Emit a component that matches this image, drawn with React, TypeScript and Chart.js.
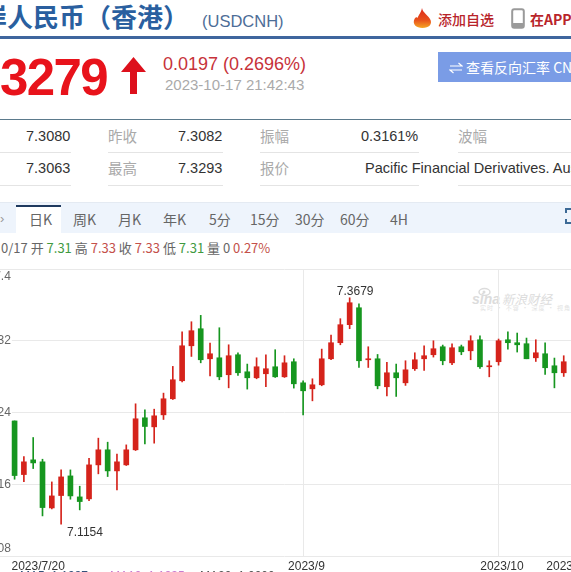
import React, { useEffect, useRef } from "react";
import { Chart, registerables } from "chart.js";

Chart.register(...registerables);

const opens = [7.2306,7.1708,7.1872,7.1850,7.1336,7.1474,7.1693,7.1459,7.1437,7.1816,7.1984,7.1749,7.1816,7.1984,7.2341,7.2240,7.2374,7.2553,7.2754,7.3144,7.3334,7.2999,7.3010,7.2821,7.3044,7.2854,7.2787,7.2832,7.2910,7.2798,7.2966,7.2731,7.2664,7.2709,7.2999,7.3178,7.3379,7.3568,7.2988,7.2999,7.2687,7.2843,7.2731,7.2888,7.2999,7.3044,7.3133,7.2954,7.3133,7.3088,7.3211,7.2910,7.2966,7.3211,7.3178,7.3167,7.3010,7.3055,7.2921,7.2843];
const closes = [7.1697,7.1850,7.1838,7.1340,7.1470,7.1682,7.1470,7.1407,7.1816,7.1984,7.1749,7.1850,7.1984,7.2330,7.2244,7.2363,7.2553,7.2765,7.3144,7.3312,7.2988,7.3055,7.2798,7.3033,7.2843,7.2787,7.2910,7.2888,7.2798,7.2954,7.2720,7.2642,7.2709,7.2999,7.3178,7.3379,7.3624,7.2977,7.2999,7.2698,7.2843,7.2787,7.2876,7.2988,7.3033,7.3111,7.2977,7.3122,7.3077,7.3200,7.2910,7.2921,7.3200,7.3178,7.3155,7.2999,7.3066,7.2899,7.2843,7.2966];
const highs = [7.2306,7.1909,7.2121,7.1879,7.1626,7.1760,7.1760,7.1578,7.1890,7.2114,7.2069,7.1935,7.2039,7.2497,7.2430,7.2437,7.2616,7.2914,7.3300,7.3412,7.3483,7.3174,7.3345,7.3155,7.3066,7.2940,7.3010,7.3044,7.3100,7.3033,7.2999,7.2754,7.2776,7.3107,7.3263,7.3446,7.3679,7.3613,7.3133,7.3047,7.2958,7.2940,7.2977,7.3066,7.3144,7.3200,7.3152,7.3167,7.3152,7.3256,7.3256,7.2977,7.3219,7.3300,7.3286,7.3230,7.3211,7.3178,7.3007,7.3033];
const lows = [7.1656,7.1630,7.1775,7.1247,7.1325,7.1154,7.1433,7.1314,7.1418,7.1716,7.1686,7.1537,7.1809,7.1976,7.2051,7.2058,7.2322,7.2545,7.2742,7.3025,7.2954,7.2809,7.2765,7.2675,7.2813,7.2661,7.2776,7.2687,7.2791,7.2791,7.2672,7.2374,7.2530,7.2698,7.2988,7.3155,7.3334,7.2902,7.2902,7.2664,7.2586,7.2579,7.2702,7.2869,7.2869,7.3018,7.2932,7.2932,7.3044,7.2988,7.2891,7.2798,7.2928,7.3107,7.3074,7.2999,7.2969,7.2824,7.2675,7.2802];

const leadingSlots = [null, null, null];
const trailingSlots = [null, null];
const dateLabels: string[] = ["","","","","","   2023/7/20","","","","","","","","","","","","","","","","","","","","","","","","","","","","","  2023/9","","","","","","","","","","","","","","","","","","","","","  2023/10","","","","","","","","2023/10/9","",""].slice(0, 65);
const gridDates = ["2023/9", "2023/10"];
const yTicks = [7.4, 7.32, 7.24, 7.16, 7.08];
const highLabel = "7.3679";
const lowLabel = "7.1154";

const upColor = "#d5231b";
const downColor = "#16961f";

const extremeLabels = {
  id: "extremeLabels",
  afterDatasetsDraw(chart: any) {
    const { ctx, scales } = chart;
    const topIdx = leadingSlots.length + highs.indexOf(Math.max(...highs));
    const botIdx = leadingSlots.length + lows.indexOf(Math.min(...lows));
    ctx.save();
    ctx.font = "12px 'Liberation Sans'";
    ctx.fillStyle = "#333";
    ctx.textBaseline = "middle";
    ctx.textAlign = "center";
    ctx.fillText(highLabel, scales.x.getPixelForTick(topIdx) + 5.5, scales.y.getPixelForValue(Math.max(...highs)) - 6);
    ctx.textAlign = "left";
    ctx.fillText(lowLabel, scales.x.getPixelForTick(botIdx) + 6, scales.y.getPixelForValue(Math.min(...lows)) + 8);
    ctx.restore();
  },
};

const abs = (x: number, y: number, extra: React.CSSProperties = {}): React.CSSProperties => ({
  position: "absolute",
  left: x,
  top: y,
  whiteSpace: "nowrap",
  ...extra,
});

const CJK = "'Noto Sans CJK SC','Liberation Sans',sans-serif";
const ARIAL = "'Liberation Sans','Noto Sans CJK SC',sans-serif";

const rows: [string, number, number, string, string][] = [
  ["7.3080", 26, 136, "#333", ARIAL],
  ["昨收", 108, 136, "#aaa", CJK],
  ["7.3082", 178, 136, "#333", ARIAL],
  ["振幅", 260, 136, "#aaa", CJK],
  ["0.3161%", 361, 136, "#333", ARIAL],
  ["波幅", 458, 136, "#aaa", CJK],
  ["7.3063", 26, 168, "#333", ARIAL],
  ["最高", 108, 168, "#aaa", CJK],
  ["7.3293", 178, 168, "#333", ARIAL],
  ["报价", 260, 168, "#aaa", CJK],
  ["Pacific Financial Derivatives. Australia", 365, 168, "#333", ARIAL],
];
const underlines: [number, number][] = [[0, 71], [108, 223], [260, 419], [458, 571]];
const tabs: [string, number][] = [["日K", 29], ["周K", 73], ["月K", 118], ["年K", 163], ["5分", 209], ["15分", 250], ["30分", 295], ["60分", 340], ["4H", 390]];
const quote: [string, string][] = [
  ["0/17 开 ", "#666"], ["7.31", "#3f9a3f"], [" 高 ", "#666"], ["7.33", "#c4504a"], [" 收 ", "#666"], ["7.33", "#c4504a"],
  [" 低 ", "#666"], ["7.31", "#3f9a3f"], [" 量 0 ", "#666"], ["0.27%", "#c4504a"],
];
const maLegend: [string, number, string][] = [["MA5: 1.1937", 20, "#33507a"], ["MA10: 1.1935", 110, "#c77bd0"], ["MA20: 1.0000", 200, "#555"]];

export default function App() {
  const ref = useRef<HTMLCanvasElement>(null);
  useEffect(() => {
    const toBar = (a: number[], b: number[]) => [...leadingSlots, ...a.map((v, i) => [Math.min(v, b[i]), Math.max(v, b[i])]), ...trailingSlots];
    const colors = [...leadingSlots.map(() => upColor), ...closes.map((c, i) => (c >= opens[i] ? upColor : downColor)), ...trailingSlots.map(() => upColor)];
    const chart = new Chart(ref.current!, {
      type: "bar",
      data: {
        labels: dateLabels,
        datasets: [
          { label: "wick", data: toBar(lows, highs) as any, backgroundColor: colors, barThickness: 1, grouped: false, order: 2 },
          { label: "body", data: toBar(opens, closes) as any, backgroundColor: colors, barThickness: 5, minBarLength: 1, grouped: false, order: 1 },
        ],
      },
      options: {
        animation: false,
        responsive: false,
        layout: { padding: { top: 7, left: 0, right: 0, bottom: 0 } },
        plugins: { legend: { display: false }, tooltip: { enabled: false } },
        scales: {
          x: {
            grid: {
              offset: false,
              drawTicks: false,
              color: (c: any) => (gridDates.includes((dateLabels[c.index] || "").trim()) ? "#e9e9e9" : "rgba(0,0,0,0)"),
            },
            border: { display: false },
            ticks: { autoSkip: false, maxRotation: 0, padding: 3, color: "#333", font: { family: "'Liberation Sans'", size: 12 } },
            afterFit: (s: any) => { s.height = 24; s.paddingLeft = 0; s.paddingRight = 0; },
          },
          y: {
            min: 7.08,
            max: 7.4,
            afterFit: (s: any) => { s.width = 0; s.paddingTop = 0; s.paddingBottom = 0; },
            afterBuildTicks: (s: any) => { s.ticks = yTicks.map((value) => ({ value })); },
            grid: { color: "#e9e9e9", drawTicks: false },
            border: { display: false },
            ticks: {
              mirror: true,
              padding: 5.5,
              z: 1,
              color: "#666",
              font: { family: "'Liberation Sans'", size: 12 },
              showLabelBackdrop: (c: any) => c.tick && c.tick.value !== 7.4 && c.tick.value !== 7.08,
              backdropColor: "#fff",
              backdropPadding: 1,
              callback: (v: any) => {
                const n = Number(v);
                if (n === 7.4) return ["", "  7.4"];
                if (n === 7.08) return ["7.08", ""];
                return n.toFixed(2);
              },
            },
          },
        },
      },
      plugins: [extremeLabels],
    } as any);
    return () => chart.destroy();
  }, []);

  return (
    <div style={{ position: "relative", width: 571, height: 572, overflow: "hidden", background: "#fff", fontFamily: ARIAL }}>
      <style>{"body{margin:0}"}</style>

      <div style={abs(-45, -3, { fontFamily: CJK, fontWeight: 700, fontSize: 26, lineHeight: "38px", color: "#2a5f9f" })}>离岸人民币（香港）</div>
      <div style={abs(202, 11, { fontSize: 16.5, lineHeight: "20px", color: "#4d6d97" })}>(USDCNH)</div>

      <svg style={abs(412, 8)} width="21" height="21" viewBox="0 0 21 21">
        <defs>
          <linearGradient id="fire" x1="0" y1="0" x2="0" y2="1">
            <stop offset="0" stopColor="#dc2a1c" />
            <stop offset="0.6" stopColor="#e8501c" />
            <stop offset="1" stopColor="#f6a623" />
          </linearGradient>
        </defs>
        <path d="M10 0 C11 5 15 6 18 11 C21 16 17 20 10.5 20 C4 20 0 16 2.5 11 C3.5 9 5 9 5.5 10 C6.5 7 9 5 10 0 Z" fill="url(#fire)" />
      </svg>
      <div style={abs(438, 9, { fontFamily: CJK, fontSize: 14, lineHeight: "20px", color: "#b8242a", fontWeight: 500 })}>添加自选</div>
      <svg style={abs(511, 8)} width="14" height="21" viewBox="0 0 14 21">
        <rect x="1.2" y="1.2" width="11.6" height="18.6" rx="2" fill="#fff" stroke="#9a9a9a" strokeWidth="2" />
        <rect x="1" y="15" width="12" height="5" rx="1.5" fill="#9a9a9a" />
      </svg>
      <div style={abs(530, 9, { fontFamily: CJK, fontSize: 14, lineHeight: "20px", color: "#b8242a", fontWeight: 700 })}>在APP中查看</div>

      <div style={abs(0, 36, { width: 571, height: 3, background: "#3f669e" })} />

      <div style={{ position: "absolute", right: 464, top: 48, fontSize: 51, lineHeight: "60px", fontWeight: 700, letterSpacing: -1.6, color: "#e8131b", whiteSpace: "nowrap" }}>7.3279</div>
      <svg style={abs(121, 57)} width="25" height="37" viewBox="0 0 25 37">
        <polygon points="12.5,0 25,15 16,15 16,37 9,37 9,15 0,15" fill="#dd101c" />
      </svg>
      <div style={abs(163, 54, { fontSize: 18, lineHeight: "20px", color: "#c7323a" })}>0.0197 (0.2696%)</div>
      <div style={abs(165, 76, { fontSize: 15, lineHeight: "18px", color: "#aaa" })}>2023-10-17 21:42:43</div>

      <div style={abs(438, 52, { width: 133, height: 30, background: "#7a9ce6" })} />
      <svg style={abs(449, 60)} width="14" height="16" viewBox="0 0 14 16">
        <path d="M1 6 H13 L9.5 3 M13 10 H1 L4.5 13" fill="none" stroke="#fff" strokeWidth="1.2" />
      </svg>
      <div style={abs(466, 57, { fontFamily: CJK, fontSize: 14, lineHeight: "20px", color: "#fff" })}>查看反向汇率 CNH/USD</div>

      <div style={abs(0, 118.5, { width: 571, height: 1, background: "#5b7a8c" })} />
      {rows.map(([t, x, y, c, f], i) => (
        <div key={i} style={abs(x, y - 10, { fontFamily: f, fontSize: 14.5, lineHeight: "20px", color: c })}>{t}</div>
      ))}
      {[152, 185].map((y) =>
        underlines.map(([a, b]) => <div key={y + "-" + a} style={abs(a, y, { width: b - a, height: 1, background: "#e4e4e4" })} />),
      )}

      <div style={abs(0, 202, { width: 571, height: 31, background: "#eef4fc", borderTop: "1px solid #e4eaf2", boxSizing: "border-box" })} />
      <div style={abs(16, 205, { width: 45, height: 29, background: "#fff", borderTop: "2px solid #1f3a5f", boxSizing: "border-box" })} />
      <div style={abs(0, 209, { fontSize: 13, lineHeight: "20px", color: "#999" })}>›</div>
      {tabs.map(([t, x]) => (
        <div key={t} style={abs(x, 209, { fontFamily: CJK, fontSize: 14, lineHeight: "20px", color: "#666" })}>{t}</div>
      ))}
      <svg style={abs(565, 208)} width="6" height="16" viewBox="0 0 6 16">
        <path d="M6 1 H1 V5 M1 11 V15 H6" fill="none" stroke="#3d6a96" strokeWidth="2" />
      </svg>

      <div style={abs(1, 238, { fontFamily: CJK, fontSize: 13, lineHeight: "20px" })}>
        {quote.map(([t, c], i) => <span key={i} style={{ color: c, whiteSpace: "pre" }}>{t}</span>)}
      </div>

      <svg style={abs(478, 287)} width="13" height="9" viewBox="0 0 13 9">
        <ellipse cx="6.5" cy="5" rx="5.5" ry="3.5" fill="none" stroke="#dcdcdc" strokeWidth="1.5" />
        <circle cx="6" cy="5" r="1.5" fill="#dcdcdc" />
      </svg>
      <div style={abs(472, 291, { color: "#dcdcdc", fontWeight: 700, fontStyle: "italic", fontSize: 14, lineHeight: "16px" })}>
        sina<span style={{ fontFamily: CJK, fontWeight: 400, fontSize: 12.5, marginLeft: 2 }}>新浪财经</span>
      </div>
      <div style={abs(480, 304, { fontFamily: CJK, color: "#e2e2e2", fontSize: 6, lineHeight: "8px", letterSpacing: 1 })}>实时 · 不容 · 深度 · 视角</div>

      <canvas ref={ref} width={605} height={318} style={{ position: "absolute", left: -18.26, top: 262, width: 605, height: 318 }} />

      {maLegend.map(([t, x, c]) => (
        <div key={t} style={abs(x, 569, { fontSize: 12, lineHeight: "14px", color: c })}>{t}</div>
      ))}
    </div>
  );
}
